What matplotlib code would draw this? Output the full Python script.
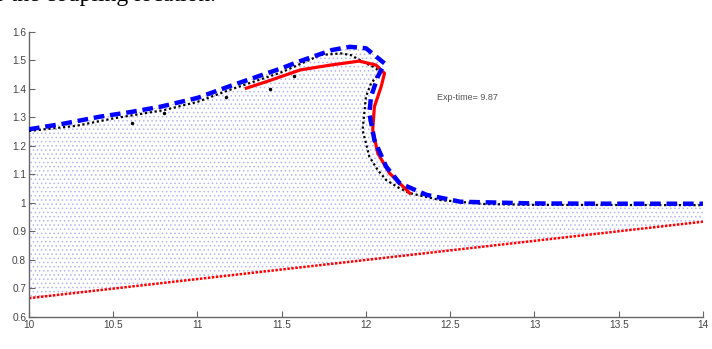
import matplotlib
matplotlib.use('Agg')
import matplotlib.pyplot as plt
from matplotlib.patches import Polygon
from matplotlib.ticker import FuncFormatter
import numpy as np

plt.rcParams['font.family'] = ['Liberation Sans', 'DejaVu Sans']
plt.rcParams['hatch.linewidth'] = 0.6

# outer free surface (blue dashed)
blue_x = [10.0, 10.2, 10.42, 10.6, 10.78, 11.0, 11.21, 11.5, 11.6, 11.8, 11.905, 12.0,
          12.11, 12.07, 12.03, 12.02, 12.05, 12.12, 12.2, 12.36, 12.56, 13.0, 13.5, 14.0]
blue_y = [1.258, 1.277, 1.302, 1.318, 1.337, 1.368, 1.413, 1.472, 1.495, 1.536, 1.547, 1.542,
          1.489, 1.442, 1.372, 1.314, 1.220, 1.127, 1.069, 1.028, 1.004, 0.998, 0.997, 0.997]

# particle surface (black dots)
black_x = [10.0, 10.28, 10.5, 10.8, 11.0, 11.2, 11.5, 11.73, 11.85, 11.91, 12.0, 12.06, 12.08,
           12.03, 12.0, 11.99, 11.98, 12.0, 12.02, 12.07, 12.12, 12.2, 12.26, 12.44, 12.7, 13.0, 14.0]
black_y = [1.252, 1.270, 1.296, 1.325, 1.354, 1.398, 1.458, 1.518, 1.524, 1.518, 1.489, 1.472, 1.454,
           1.419, 1.372, 1.314, 1.255, 1.209, 1.162, 1.115, 1.080, 1.051, 1.034, 1.010, 0.996, 0.993, 0.992]
outlier_x = [10.61, 10.80, 11.17, 11.43, 11.57]
outlier_y = [1.279, 1.316, 1.372, 1.398, 1.445]

# reference solution (red solid)
red_x = [11.29, 11.41, 11.61, 11.79, 11.96, 12.06, 12.11, 12.09, 12.05, 12.04, 12.07, 12.14, 12.26]
red_y = [1.402, 1.425, 1.466, 1.483, 1.497, 1.483, 1.454, 1.407, 1.337, 1.256, 1.174, 1.104, 1.034]

# sloping bottom (red dotted)
bottom_x = [10.0, 14.0]
bottom_y = [0.666, 0.934]

exp_time = 9.87

fig = plt.figure(figsize=(7.12, 3.49), dpi=100)
ax = fig.add_axes([0.0407, 0.0917, 0.9466, 0.8175])

# fluid particles as a faint dotted fill
poly_pts = list(zip(bottom_x, bottom_y)) + list(zip(blue_x[::-1], blue_y[::-1]))
ax.add_patch(Polygon(poly_pts, closed=True, facecolor='none', edgecolor='#b4b4f4',
                     hatch='....', linewidth=0, zorder=1))

ax.plot(bottom_x, bottom_y, color='#ff0000', lw=1.8, ls=(0, (1, 0.6)), zorder=2)
ax.plot(black_x, black_y, color='black', lw=1.6, ls=(0, (1, 1.2)), zorder=3)
ax.plot(outlier_x, outlier_y, 'k.', ms=3, zorder=3)
ax.plot(red_x, red_y, color='#ff0000', lw=2.3, zorder=4)
ax.plot(blue_x, blue_y, color='#0000ff', lw=3.2, ls=(0, (2.4, 1.3)), zorder=5)

ax.text(12.42, 1.371, 'Exp-time= %.2f' % exp_time, fontsize=6.5, color='#555555',
        ha='left', va='center')

ax.set_xlim(10, 14)
ax.set_ylim(0.6, 1.6)
ax.set_xticks(np.arange(10, 14.01, 0.5))
ax.set_yticks(np.arange(0.6, 1.61, 0.1))
fmt = FuncFormatter(lambda v, p: '%g' % round(v, 2))
ax.xaxis.set_major_formatter(fmt)
ax.yaxis.set_major_formatter(fmt)
for s in ['top', 'right']:
    ax.spines[s].set_visible(False)
for s in ['left', 'bottom']:
    ax.spines[s].set_color('#666666')
    ax.spines[s].set_linewidth(1.0)
ax.tick_params(direction='in', length=4, width=0.8, colors='#666666', labelsize=7.3,
               labelcolor='#444444', pad=2)

# caption line cut off at the top of the crop, as in the source
fig.text(-0.004, 1 - 0.6 / 349, 'r the coupling location.', fontsize=17,
         family=['Liberation Serif', 'DejaVu Serif'], va='baseline', ha='left')

fig.savefig('out.png', dpi=100, facecolor='white')
